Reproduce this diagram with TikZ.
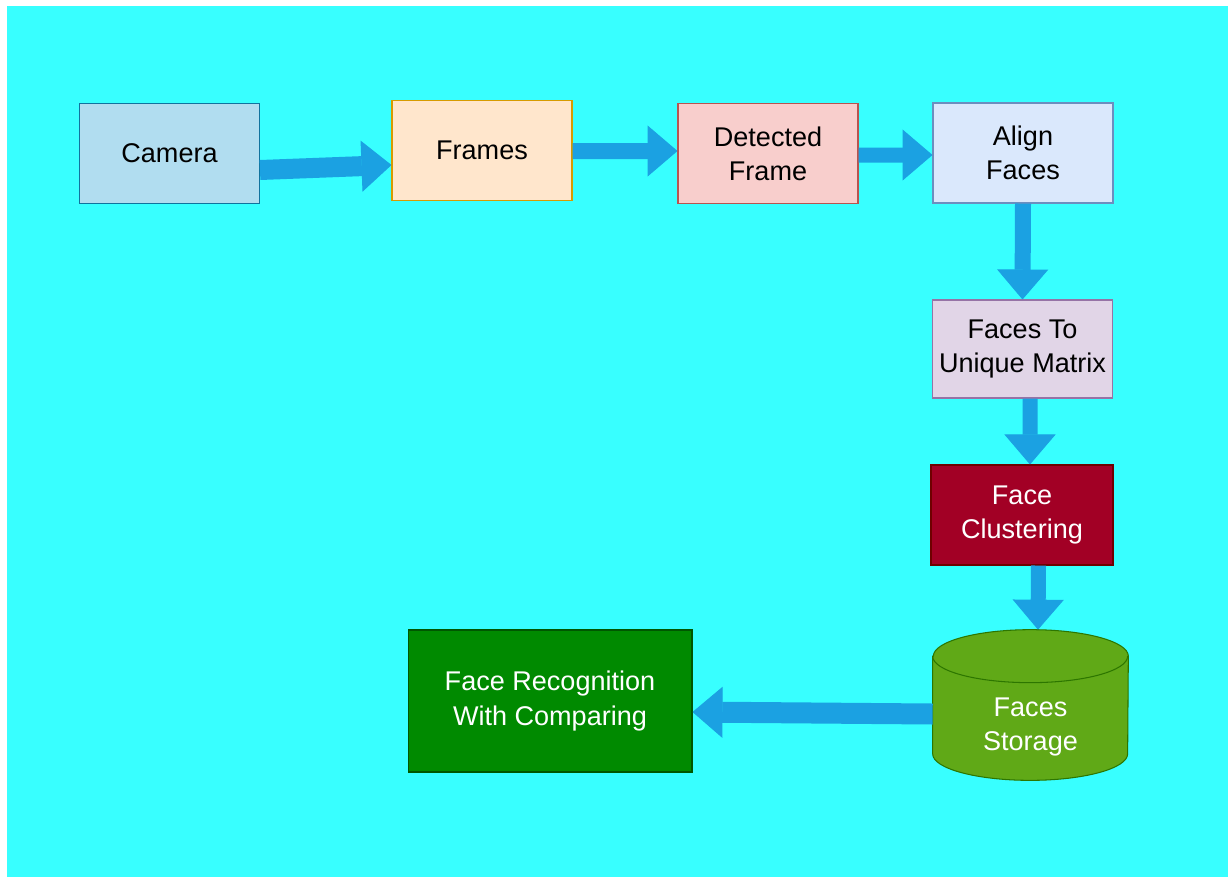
\documentclass[tikz,border=0pt]{standalone}
\usepackage{fontspec}
\setmainfont{Liberation Sans}
\usetikzlibrary{
    arrows.meta
}
\definecolor{bgcyan}{HTML}{38FFFF}
\definecolor{arrowblue}{HTML}{1BA1E2}
\definecolor{storagegreen}{HTML}{60A917}
\definecolor{storageedge}{HTML}{2D7600}

\begin{document}
\begin{tikzpicture}[x=0.02cm,y=-0.02cm,font=\fontsize{15.4}{19.4}\selectfont]
    \tikzstyle{block}=[rectangle, draw, line width=0.6pt, align=center, inner sep=0pt, minimum width=3.6cm, minimum height=2cm]
    \tikzstyle{flow}=[draw=arrowblue, line width=0.32cm, -{Triangle[length=0.6cm, width=1.02cm, line width=0.02cm, color=arrowblue]}]
    \tikzstyle{lid}=[x radius=1.95cm, y radius=0.53cm]
	\fill[white] (0,0) rectangle (1228,877);
	\fill[bgcyan] (7,6) rectangle (1228,877);

	\node[block, fill={rgb,255:red,177;green,221;blue,240}, draw={rgb,255:red,16;green,115;blue,158}] (camera) at (169.5,153.5) {Camera};
	\node[block, fill={rgb,255:red,255;green,230;blue,204}, draw={rgb,255:red,215;green,155;blue,0}] (frames) at (482,150.5) {Frames};
	\node[block, fill={rgb,255:red,248;green,206;blue,204}, draw={rgb,255:red,184;green,84;blue,80}] (detected) at (768,153.5) {Detected\\ Frame};
	\node[block, fill={rgb,255:red,218;green,232;blue,252}, draw={rgb,255:red,108;green,142;blue,191}] (align) at (1023,153) {Align\\ Faces};
	\node[block, fill={rgb,255:red,225;green,213;blue,231}, draw={rgb,255:red,150;green,115;blue,166}, minimum height=1.96cm] (unique) at (1022.5,349) {Faces To\\ Unique Matrix};
	\node[block, fill={rgb,255:red,162;green,0;blue,37}, draw={rgb,255:red,111;green,0;blue,0}, text=white, minimum width=3.64cm] (clustering) at (1022,515) {Face\\ Clustering};
	\node[block, fill={rgb,255:red,0;green,138;blue,0}, draw={rgb,255:red,0;green,87;blue,0}, text=white, minimum width=5.68cm, minimum height=2.84cm] (recognition) at (550,701) {Face Recognition\\ With Comparing};

	% storage drum
	\node[inner sep=0pt, minimum width=3.9cm, minimum height=3cm] (storage) at (1030.5,705) {};
	\filldraw[fill=storagegreen, draw=storageedge, line width=0.6pt] ([yshift=-0.53cm]storage.north west) -- ([yshift=0.53cm]storage.south west) arc[lid, start angle=180, end angle=360] -- ([yshift=-0.53cm]storage.north east) arc[lid, start angle=0, end angle=180] -- cycle;
	\draw[storageedge, line width=0.6pt] ([yshift=-0.53cm]storage.north west) arc[lid, start angle=180, end angle=360];
	\node[text=white, align=center] (storagetext) at ([yshift=-0.44cm]storage.center) {Faces\\ Storage};

	\draw [flow, line width=0.4cm] ([yshift=-0.33cm]camera.east) -- ([yshift=-0.29cm]frames.west);
	\draw [flow] ([yshift=-0.01cm]frames.east) -- ([yshift=0.05cm]detected.west);
	\draw [flow, line width=0.3cm] ([yshift=-0.03cm]detected.east) -- ([yshift=-0.04cm]align.west);
	\draw [flow] (align.south) -- (unique.north);
	\draw [flow, line width=0.3cm] ([xshift=0.15cm]unique.south) -- ([xshift=0.16cm]clustering.north);
	\draw [flow, line width=0.3cm] ([xshift=0.33cm]clustering.south) -- ([xshift=0.15cm]storage.north);
	\draw [flow, line width=0.42cm] ([yshift=-0.18cm]storage.west) -- ([yshift=-0.22cm]recognition.east);
\end{tikzpicture}
\end{document}
